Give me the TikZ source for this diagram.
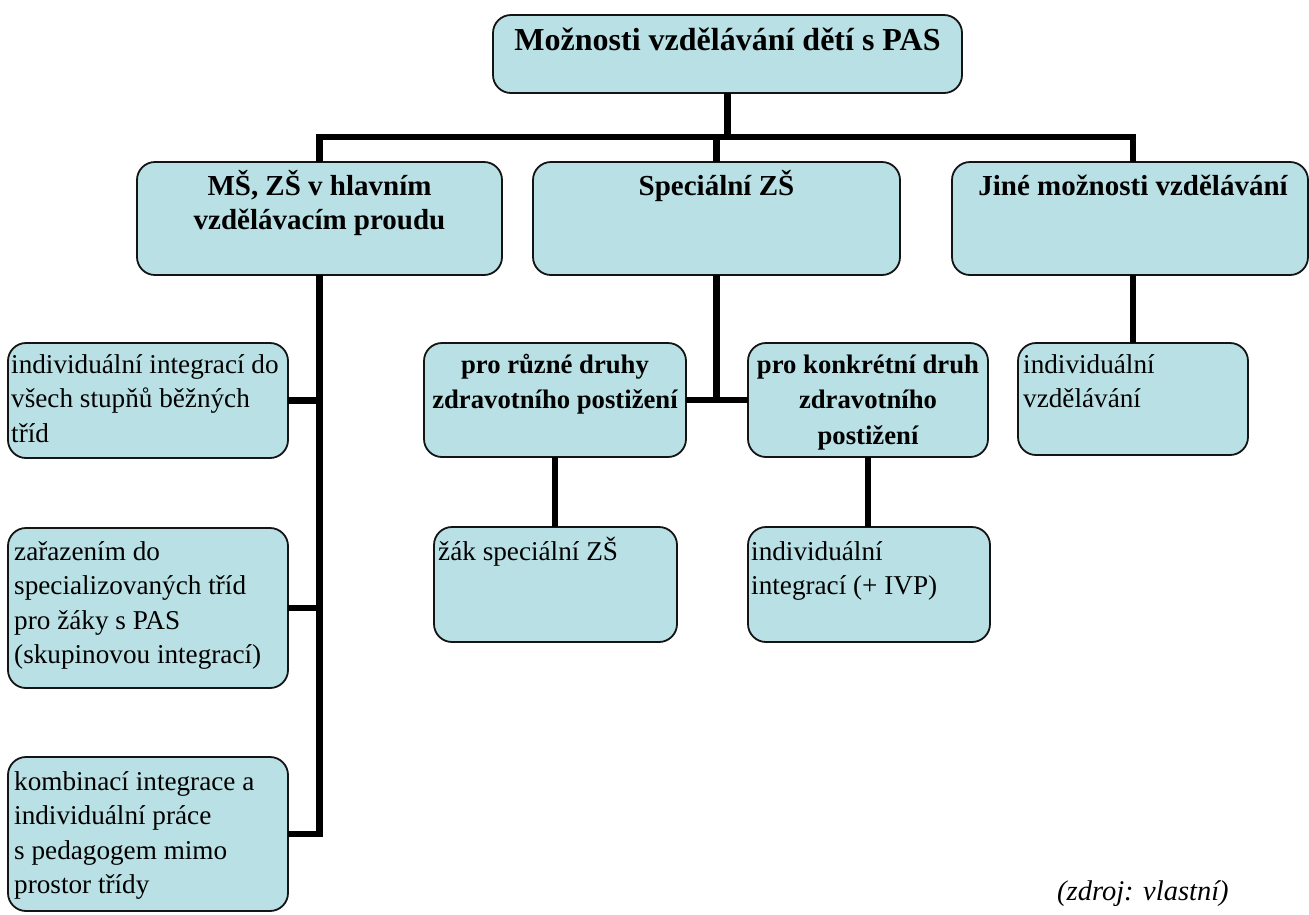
\documentclass[tikz,border=0pt]{standalone}
\usepackage{fontspec}
\setmainfont{Liberation Serif}
\definecolor{boxfill}{RGB}{185,224,228}
\definecolor{boxline}{RGB}{20,20,20}
\tikzset{
  box/.style={draw=boxline, fill=boxfill, line width=1.8pt, rounded corners=18pt, inner sep=0pt, outer sep=0pt},
  conn/.style={line width=6.5pt, black, line join=miter},
  ttl/.style={inner sep=0pt, align=center, font=\fontsize{32}{38}\selectfont\bfseries},
  hdr/.style={inner sep=0pt, align=center, font=\fontsize{29}{34}\selectfont\bfseries},
  subhdr/.style={inner sep=0pt, align=center, font=\fontsize{26.7}{35.5}\selectfont\bfseries},
  bdy/.style={inner sep=0pt, align=left, font=\fontsize{27.2}{34.5}\selectfont},
  src/.style={inner sep=0pt, font=\fontsize{28.5}{34}\selectfont\itshape}
}
\newcommand{\fl}[1]{\rule{0pt}{#1pt}}
\begin{document}
\begin{tikzpicture}[x=1pt,y=-1pt]
\useasboundingbox (0,0) rectangle (1309,914);
% boxes
\node[box, minimum width=469pt, minimum height=78pt] (top) at (727.5,54) {};
\node[box, minimum width=365pt, minimum height=113pt] (ms) at (319.5,218.5) {};
\node[box, minimum width=367pt, minimum height=113pt] (spec) at (716.5,218.5) {};
\node[box, minimum width=356pt, minimum height=113pt] (jine) at (1130,218.5) {};
\node[box, minimum width=280pt, minimum height=115pt] (L1) at (148,400.5) {};
\node[box, minimum width=280pt, minimum height=160pt] (L2) at (148,608) {};
\node[box, minimum width=280pt, minimum height=154pt] (L3) at (148,834) {};
\node[box, minimum width=262pt, minimum height=114pt] (pr) at (555,400) {};
\node[box, minimum width=240pt, minimum height=114pt] (pk) at (868,400) {};
\node[box, minimum width=230pt, minimum height=112pt] (iv) at (1133,399) {};
\node[box, minimum width=243pt, minimum height=115pt] (zak) at (555.5,584.5) {};
\node[box, minimum width=242pt, minimum height=115pt] (iip) at (869,584.5) {};
% texts
\node[ttl, anchor=north] (top-t) at (727.5,20) {\fl{30}Možnosti vzdělávání dětí s PAS};
\node[hdr, anchor=north] (ms-t) at (319.5,168) {\fl{27}MŠ, ZŠ v hlavním\\vzdělávacím proudu};
\node[hdr, anchor=north] (spec-t) at (716.5,168) {\fl{27}Speciální ZŠ};
\node[hdr, anchor=north] (jine-t) at (1133,168) {\fl{27}Jiné možnosti vzdělávání};
\node[subhdr, anchor=north] (pr-t) at (555,347) {\fl{26}pro různé druhy\\zdravotního postižení};
\node[subhdr, anchor=north] (pk-t) at (868,347) {\fl{26}pro konkrétní druh\\zdravotního\\postižení};
\node[bdy, anchor=north west] (L1-t) at (11,347) {\fl{26}individuální integrací do\\všech stupňů běžných\\tříd};
\node[bdy, anchor=north west] (L2-t) at (14,534) {\fl{26}zařazením do\\specializovaných tříd\\pro žáky s PAS\\(skupinovou integrací)};
\node[bdy, anchor=north west] (L3-t) at (14,764) {\fl{26}kombinací integrace a\\individuální práce\\s pedagogem mimo\\prostor třídy};
\node[bdy, anchor=north west] (iv-t) at (1023,347) {\fl{26}individuální\\vzdělávání};
\node[bdy, anchor=north west] (zak-t) at (438,534) {\fl{26}žák speciální ZŠ};
\node[bdy, anchor=north west] (iip-t) at (751,534) {\fl{26}individuální\\integrací (+ IVP)};
\node[src, anchor=base west] (src) at (1057,900) {(zdroj: vlastní)};
% connectors
\coordinate (bar) at (0,137);
\draw[conn] (top.south) -- (top.south |- bar);
\draw[conn] (ms.north) -- (ms.north |- bar) -- (iv.north |- bar) -- (iv.north |- jine.north);
\draw[conn] (spec.north) -- (spec.north |- bar);
\draw[conn] (ms.south) -- (ms.south |- L3.east) -- (L3.east);
\draw[conn] (L1.east) -- (ms.south |- L1.east);
\draw[conn] (L2.east) -- (ms.south |- L2.east);
\draw[conn] (spec.south) -- (spec.south |- pr.east);
\draw[conn] (pr.east) -- (pk.west);
\draw[conn] (pr.south) -- (pr.south |- zak.north);
\draw[conn] (pk.south) -- (pk.south |- iip.north);
\draw[conn] (iv.north |- jine.south) -- (iv.north);
\end{tikzpicture}
\end{document}
